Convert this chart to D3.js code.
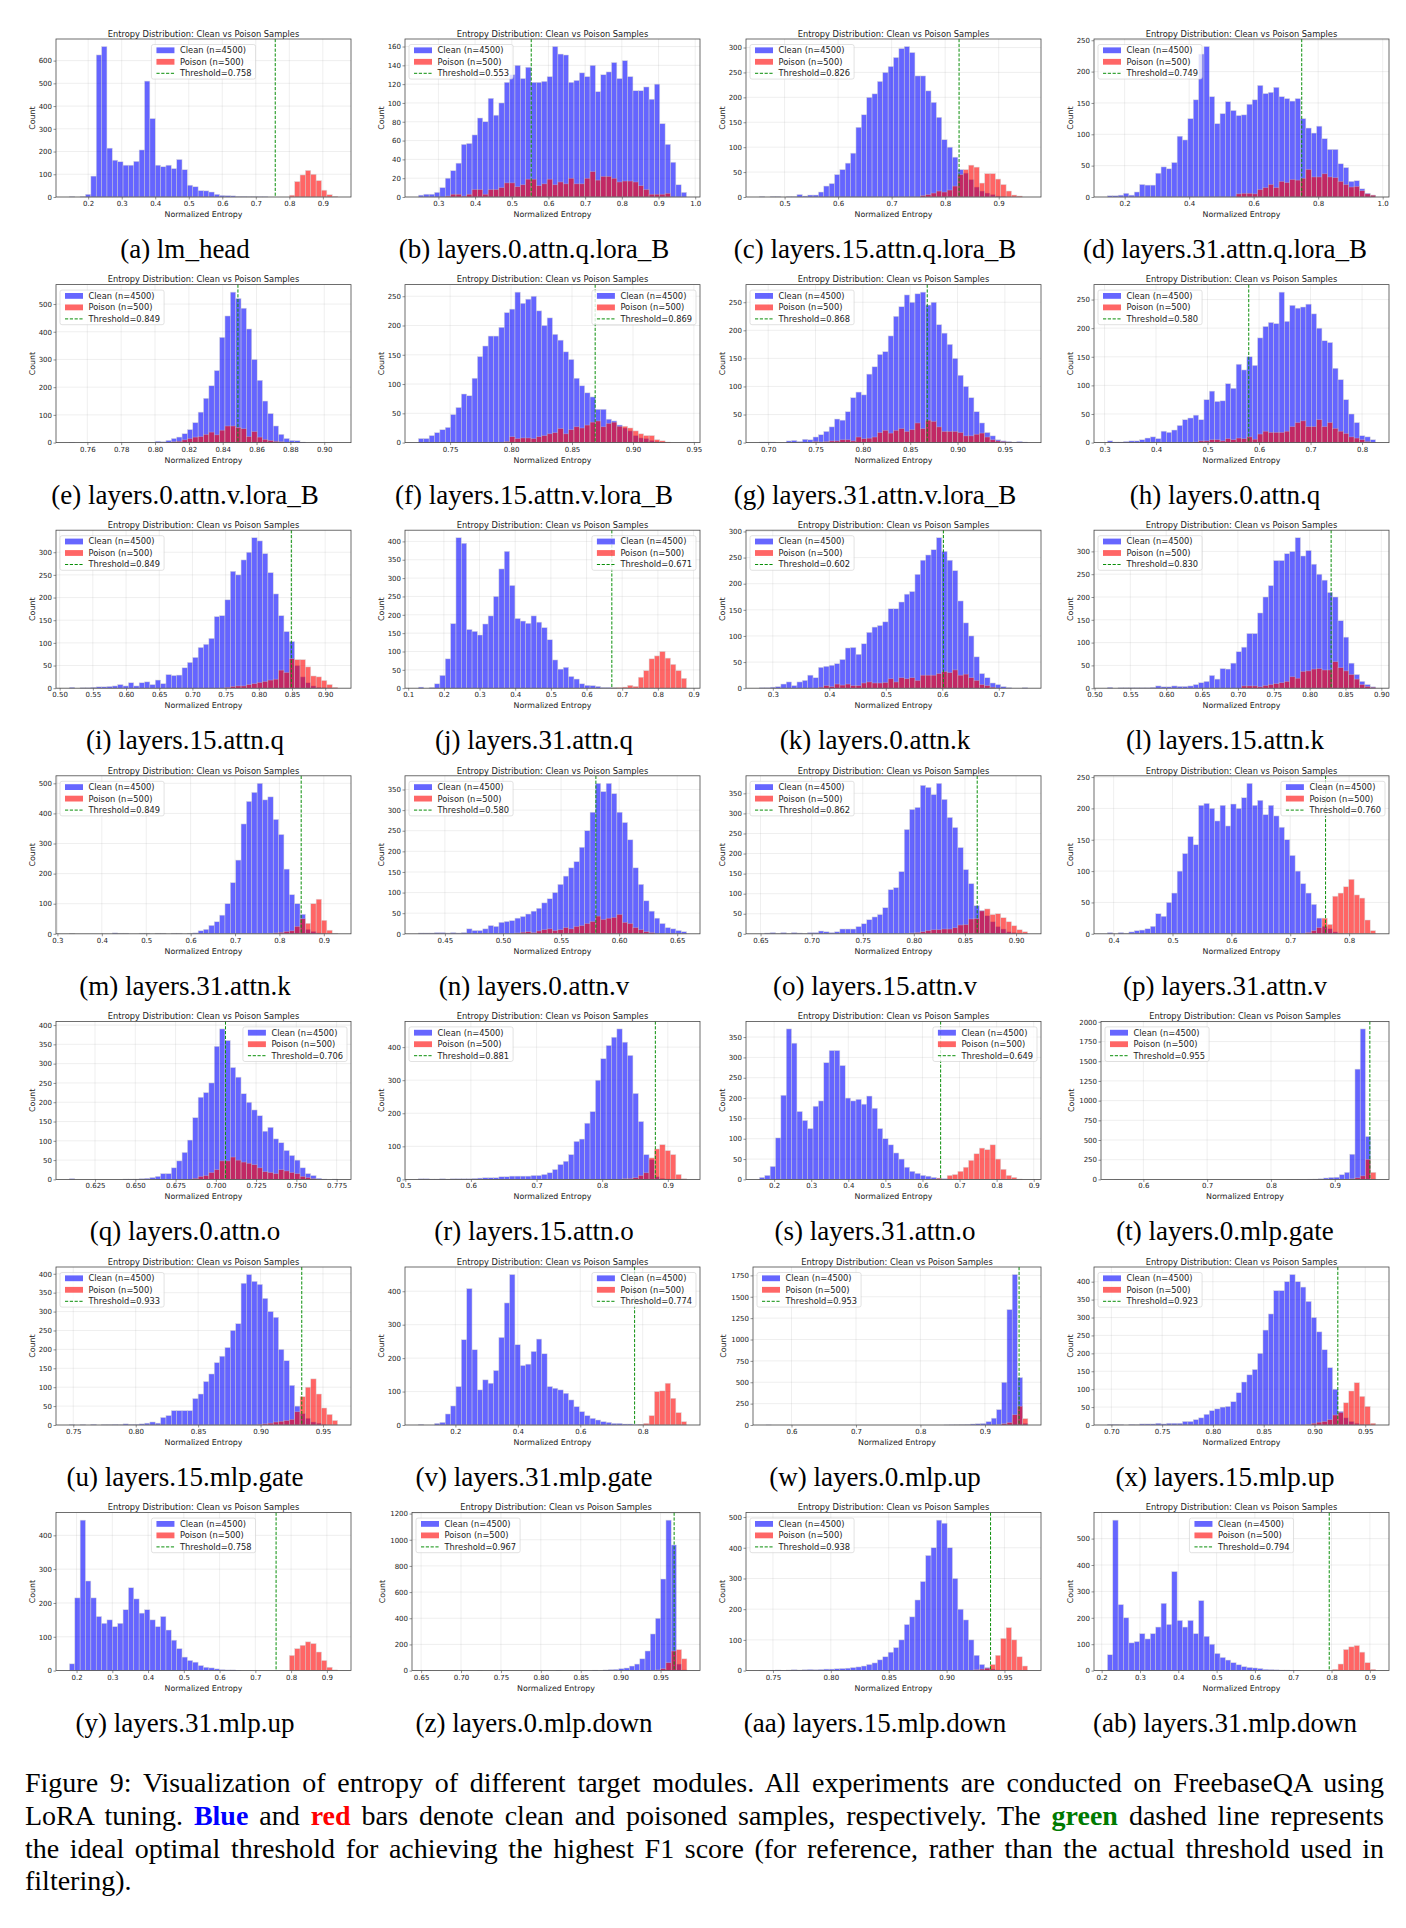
<!DOCTYPE html>
<html>
<head>
<meta charset="utf-8">
<title>Entropy of different target modules</title>
<script src="https://cdn.jsdelivr.net/npm/d3@7"></script>
<style>
  body { margin: 0; background: #fff; }
  svg text { white-space: pre; }
</style>
</head>
<body>
<svg id="fig" width="1406" height="1928"></svg>
<script>
// ---- values ----
const subLabels = ["a","b","c","d","e","f","g","h","i","j","k","l","m","n",
                   "o","p","q","r","s","t","u","v","w","x","y","z","aa","ab"];
const moduleNames = ["lm_head","layers.0.attn.q.lora_B","layers.15.attn.q.lora_B","layers.31.attn.q.lora_B",
  "layers.0.attn.v.lora_B","layers.15.attn.v.lora_B","layers.31.attn.v.lora_B","layers.0.attn.q",
  "layers.15.attn.q","layers.31.attn.q","layers.0.attn.k","layers.15.attn.k",
  "layers.31.attn.k","layers.0.attn.v","layers.15.attn.v","layers.31.attn.v",
  "layers.0.attn.o","layers.15.attn.o","layers.31.attn.o","layers.0.mlp.gate",
  "layers.15.mlp.gate","layers.31.mlp.gate","layers.0.mlp.up","layers.15.mlp.up",
  "layers.31.mlp.up","layers.0.mlp.down","layers.15.mlp.down","layers.31.mlp.down"];
const thresholds = [0.758,0.553,0.826,0.749,0.849,0.869,0.868,0.580,0.849,0.671,0.602,0.830,0.849,0.580,
                    0.862,0.760,0.706,0.881,0.649,0.955,0.933,0.774,0.953,0.923,0.758,0.967,0.938,0.794];
// range covered by the 50 histogram bins of each panel
const binLo = [0.144,0.2455,0.453,0.1466,0.7494,0.724,0.6907,0.3056,0.5147,0.1286,0.2763,0.518,0.327,0.4272,
               0.6489,0.3894,0.6091,0.520,0.1603,0.5541,0.7469,0.0816,0.5606,0.6961,0.18,0.655,0.7383,0.215];
const binHi = [0.944,0.9765,0.954,0.978,0.9079,0.944,0.974,0.8263,0.9187,0.8806,0.751,0.892,0.931,0.6581,
               0.9113,0.845,0.7756,0.9286,0.8835,0.9645,0.9617,0.9405,0.9667,0.9602,0.93,0.983,0.970,0.915];
const xTickStep = [0.1,0.1,0.1,0.2,0.02,0.05,0.05,0.1,0.05,0.1,0.1,0.05,0.1,0.05,
                   0.05,0.1,0.025,0.1,0.1,0.1,0.05,0.2,0.1,0.05,0.1,0.05,0.05,0.1];
const yTickStep = [100,20,50,50,100,50,50,50,50,50,50,50,100,50,
                   50,50,50,100,50,250,50,100,250,50,100,200,100,100];
const cleanN = 4500, poisonN = 500;

const clean_a = [2,0,2,12,92,625,662,215,162,155, 140,140,157,207,510,345,140,133,140,125, 165,120,52,45,28,27,22,12,7,6, 5,3,3,2,2,1,1,0,0,0, 0,0,0,0,0,0,0,0,0,0];
const poison_a = [0,0,0,0,0,0,0,0,0,0, 0,0,0,0,0,0,0,0,0,0, 0,0,0,0,0,0,0,0,0,0, 0,0,0,0,0,0,0,0,0,0, 0,8,68,97,117,100,72,30,10,3];
const clean_b = [2,3,3,5,10,20,28,36,56,57, 66,84,80,105,87,100,122,130,140,126, 138,122,122,123,128,160,152,151,122,124, 132,128,140,112,130,133,143,126,145,128, 113,113,117,104,120,78,56,37,13,5];
const poison_b = [0,0,0,0,0,1,3,3,1,3, 8,8,3,8,8,10,15,15,11,13, 19,19,12,14,19,13,16,14,20,14, 14,20,27,18,22,22,20,16,17,17, 16,12,8,3,3,3,4,0,0,0];
const clean_c = [1,0,1,1,0,1,1,5,2,4, 4,10,22,27,45,55,68,88,140,165, 200,207,232,250,262,280,298,302,290,243, 243,213,190,160,115,100,80,55,48,35, 20,12,8,5,2,1,0,0,0,0];
const poison_c = [0,0,0,0,0,0,0,0,0,0, 0,0,0,0,0,0,0,0,0,0, 0,0,0,0,0,0,0,0,0,0, 3,5,8,12,10,14,22,45,55,64, 60,28,47,47,36,25,12,4,2,0];
const clean_d = [2,2,3,6,3,8,20,19,19,38, 48,45,55,97,91,125,155,228,240,160, 117,133,152,138,130,131,148,155,178,165, 167,175,160,157,153,157,125,110,102,113, 93,76,76,53,47,25,26,13,6,3];
const poison_d = [0,0,0,0,0,0,0,0,0,0, 0,0,0,0,0,0,0,0,0,0, 0,0,0,0,5,6,6,5,12,15, 20,15,25,23,28,27,30,44,32,32, 37,32,31,25,20,16,17,10,5,3];
const clean_e = [1,0,0,0,0,0,0,0,0,0, 0,0,0,0,0,0,5,3,8,15, 20,32,47,72,110,160,205,260,380,457, 543,520,485,410,300,225,150,105,60,30, 15,8,7,2,0,0,0,0,0,1];
const poison_e = [0,0,0,0,0,0,0,0,0,0, 0,0,0,0,0,0,0,0,0,3, 5,10,15,20,22,30,38,28,45,60, 60,55,50,22,40,20,12,8,5,3, 0,0,0,0,0,0,0,0,0,0];
const clean_f = [7,7,12,17,22,26,48,60,83,80, 110,147,165,182,182,197,222,228,257,238, 245,250,225,200,213,185,175,155,142,110, 97,85,78,57,57,40,37,30,25,20, 12,8,7,4,2,1,0,0,0,0];
const poison_f = [0,0,0,0,0,0,0,0,0,0, 0,0,0,0,0,0,2,10,7,8, 8,7,10,12,15,17,24,15,22,27, 25,30,35,37,27,33,35,28,28,25, 20,15,12,12,5,3,1,0,0,0];
const clean_g = [1,1,1,0,0,3,4,2,6,5, 10,14,20,28,42,40,55,80,90,85, 122,135,157,162,190,225,242,263,250,265, 268,245,250,210,195,175,150,120,100,80, 55,35,18,12,5,3,2,1,2,1];
const poison_g = [0,0,0,0,0,0,0,0,0,0, 2,1,2,3,3,5,5,3,10,7, 8,10,18,22,17,22,25,20,23,35, 25,40,38,28,20,20,20,18,12,12, 15,17,10,5,3,2,1,0,0,0];
const clean_h = [3,1,1,2,3,3,5,8,10,7, 20,18,22,30,40,43,48,40,75,90, 72,73,103,95,137,127,150,135,183,203, 210,208,263,212,240,235,237,242,225,200, 178,175,130,110,75,50,35,12,10,5];
const poison_h = [0,0,0,0,0,0,0,0,0,0, 0,0,0,0,0,0,1,3,3,5, 5,3,7,5,8,7,10,6,15,20, 18,18,18,20,28,35,38,28,28,40, 28,35,25,20,16,10,8,5,2,0];
const clean_i = [2,0,1,1,2,3,3,4,5,8, 5,12,5,12,14,8,18,10,30,28, 29,45,57,68,90,97,110,158,160,195, 258,250,283,300,332,325,297,255,208,160, 125,103,50,25,12,5,2,1,0,0];
const poison_i = [0,0,0,0,0,0,0,0,0,0, 0,0,0,0,0,0,0,0,0,0, 0,0,0,0,0,0,0,0,0,2, 4,5,5,8,10,13,15,18,20,40, 35,65,63,63,47,27,25,17,8,2];
const clean_j = [3,0,2,12,35,80,176,410,395,160, 155,145,175,197,250,325,373,280,190,183, 177,197,180,165,132,77,52,57,32,25, 12,8,7,5,2,2,1,0,0,0, 0,0,0,0,0,0,0,0,0,0];
const poison_j = [0,0,0,0,0,0,0,0,0,0, 0,0,0,0,0,0,0,0,0,0, 0,0,0,0,0,0,0,0,0,0, 0,0,0,0,0,0,1,2,3,8, 5,30,48,80,88,100,82,65,48,27];
const clean_k = [1,1,2,3,8,12,5,12,15,25, 20,40,42,44,47,55,77,78,65,85, 107,117,120,127,152,152,165,180,185,218, 245,255,265,288,262,245,225,167,125,100, 60,28,20,10,7,3,1,0,0,1];
const poison_k = [0,0,0,0,0,0,0,0,0,0, 0,2,5,3,8,6,8,5,5,10, 12,10,10,11,18,12,20,18,20,15, 25,25,25,28,32,30,35,25,27,20, 15,7,5,2,0,0,0,0,0,0];
const clean_l = [2,0,1,1,1,1,1,1,2,5, 3,3,5,4,4,5,8,12,15,28, 20,43,42,55,80,90,120,120,165,200, 225,280,280,295,300,330,290,302,272,250, 237,210,200,148,112,55,30,15,8,3];
const poison_l = [0,0,0,0,0,0,0,0,0,0, 0,0,0,0,0,0,0,0,0,0, 0,0,0,0,0,5,5,5,3,6, 8,10,12,15,25,22,37,38,42,43, 40,40,58,45,38,30,20,8,4,2];
const clean_m = [1,0,0,0,0,0,0,0,3,2, 2,0,0,2,2,0,2,2,0,2, 2,0,2,3,10,15,28,40,62,100, 170,245,365,440,470,500,445,455,380,330, 215,130,100,65,15,8,3,1,0,0];
const poison_m = [0,0,0,0,0,0,0,0,0,0, 0,0,0,0,0,0,0,0,0,0, 0,0,0,0,0,0,0,0,0,0, 0,0,0,0,0,0,0,2,3,5, 8,10,25,50,35,100,115,45,12,2];
const clean_n = [2,2,2,3,3,2,3,2,3,12, 8,8,12,20,18,28,30,32,38,42, 48,55,62,75,85,100,120,140,160,175, 210,250,295,365,345,365,340,295,270,228, 160,120,80,55,38,25,15,12,8,5];
const poison_n = [0,0,0,0,0,0,0,0,0,0, 0,0,0,0,0,0,0,0,2,4, 5,3,7,10,12,8,10,15,12,18, 20,25,30,43,35,38,40,47,28,25, 15,10,5,3,0,0,0,0,0,0];
const clean_o = [0,2,3,1,3,1,3,2,1,3, 3,7,5,3,5,12,12,12,18,25, 35,42,48,65,110,115,155,260,310,315, 370,365,347,375,335,290,265,215,160,125, 70,58,45,30,18,12,5,3,1,0];
const poison_o = [0,0,0,0,0,0,0,0,0,0, 0,0,0,0,0,0,0,0,0,0, 0,0,0,0,0,0,0,1,2,3, 5,8,10,10,12,12,15,22,23,37, 38,57,62,48,50,40,30,20,10,5];
const clean_p = [2,0,2,1,3,5,6,8,12,32, 28,50,65,100,128,155,142,205,208,200, 180,205,172,207,200,217,240,205,213,190, 205,188,170,150,125,100,80,65,47,25, 12,8,3,1,0,0,0,0,0,0];
const poison_p = [0,0,0,0,0,0,0,0,0,0, 0,0,0,0,0,0,0,0,0,0, 0,0,0,0,0,0,0,0,0,0, 0,0,0,0,0,0,0,2,5,10, 25,15,60,65,75,87,62,57,22,5];
const clean_q = [2,0,0,0,0,0,0,0,0,0, 1,1,1,2,3,5,8,15,15,30, 48,70,102,160,213,225,250,345,390,360, 290,265,222,200,180,165,125,135,105,95, 75,62,50,30,15,10,3,1,0,1];
const poison_q = [0,0,0,0,0,0,0,0,0,0, 0,0,0,0,0,0,0,0,0,0, 0,0,0,3,8,10,18,25,48,48, 58,50,45,42,38,30,20,18,15,25, 22,18,15,8,5,2,0,0,0,0];
const clean_r = [2,2,1,1,2,1,2,2,2,2, 3,4,5,5,5,8,8,10,10,10, 10,12,12,15,20,30,45,55,75,115, 122,170,205,300,365,405,430,455,415,375, 260,175,75,60,8,3,1,0,0,0];
const poison_r = [0,0,0,0,0,0,0,0,0,0, 0,0,0,0,0,0,0,0,0,0, 0,0,0,0,0,0,0,0,0,0, 0,0,0,0,0,0,0,0,2,3, 5,12,20,65,92,105,87,75,15,2];
const clean_s = [5,10,32,102,207,370,335,167,145,125, 180,193,287,317,317,280,200,193,197,185, 205,175,125,100,85,65,50,30,20,15, 10,8,5,3,2,1,0,0,0,0, 0,0,0,0,0,0,0,0,0,0];
const poison_s = [0,0,0,0,0,0,0,0,0,0, 0,0,0,0,0,0,0,0,0,0, 0,0,0,0,0,0,0,0,0,0, 0,0,0,3,0,10,12,20,30,47, 63,77,73,85,50,25,10,5,1,0];
const clean_t = [1,0,0,0,0,0,0,0,0,0, 0,0,0,0,0,0,0,0,0,0, 0,0,0,0,0,0,0,0,0,0, 0,0,0,1,1,2,2,3,5,8, 18,25,28,60,90,320,1400,1910,545,5];
const poison_t = [0,0,0,0,0,0,0,0,0,0, 0,0,0,0,0,0,0,0,0,0, 0,0,0,0,0,0,0,0,0,0, 0,0,0,0,0,0,0,0,0,0, 0,0,0,0,3,8,20,45,255,90];
const clean_u = [1,0,1,0,2,0,1,1,2,1, 3,2,2,3,5,8,5,20,25,38, 38,38,38,70,82,115,135,165,182,205, 250,268,375,398,380,372,335,300,285,200, 170,105,50,30,18,8,5,2,0,0];
const poison_u = [0,0,0,0,0,0,0,0,0,0, 0,0,0,0,0,0,0,0,0,0, 0,0,0,0,0,0,0,0,0,0, 0,0,0,0,0,2,3,5,8,10, 12,15,35,75,100,122,82,45,28,12];
const clean_v = [2,0,0,5,8,33,57,115,255,408, 225,105,135,125,163,262,365,450,240,178, 182,220,257,213,115,110,105,95,75,55, 40,28,20,15,10,8,5,5,3,3, 2,1,0,0,0,0,0,0,0,0];
const poison_v = [0,0,0,0,0,0,0,0,0,0, 0,0,0,0,0,0,0,0,0,0, 0,0,0,0,0,0,0,0,0,0, 0,0,0,0,0,0,0,0,0,0, 0,2,5,28,100,102,125,80,37,10];
const clean_w = [1,0,0,0,0,0,0,0,0,0, 0,0,0,0,0,0,0,0,0,0, 0,0,0,0,0,0,0,0,0,0, 0,0,0,0,1,2,3,5,8,12, 15,18,40,80,180,500,1350,1760,555,20];
const poison_w = [0,0,0,0,0,0,0,0,0,0, 0,0,0,0,0,0,0,0,0,0, 0,0,0,0,0,0,0,0,0,0, 0,0,0,0,0,0,0,0,0,0, 0,0,0,0,5,15,30,120,220,75];
const clean_x = [2,2,1,0,2,1,3,3,3,5, 3,5,5,5,10,10,15,20,30,40, 45,50,52,65,90,120,140,155,200,265, 310,375,375,400,420,400,385,345,300,260, 210,160,100,38,20,10,5,2,1,0];
const poison_x = [0,0,0,0,0,0,0,0,0,0, 0,0,0,0,0,0,0,0,0,0, 0,0,0,0,0,0,0,0,0,0, 0,0,0,0,0,0,0,2,5,8, 10,15,28,35,62,95,118,80,52,5];
const clean_y = [20,215,445,265,215,160,140,150,130,140, 180,245,212,170,180,150,130,160,120,90, 65,40,30,25,15,10,8,5,3,2, 2,1,0,0,0,0,0,0,0,0, 0,0,0,0,0,0,0,0,0,0];
const poison_y = [0,0,0,0,0,0,0,0,0,0, 0,0,0,0,0,0,0,0,0,0, 0,0,0,0,0,0,0,0,0,0, 0,0,0,0,0,0,0,0,0,0, 0,45,65,75,85,80,55,30,10,2];
const clean_z = [2,0,0,0,0,1,0,0,0,0, 1,0,0,0,0,1,0,0,0,0, 1,0,0,0,0,2,0,0,0,0, 2,0,3,0,5,8,10,15,20,35, 50,90,150,280,400,700,1150,960,50,5];
const poison_z = [0,0,0,0,0,0,0,0,0,0, 0,0,0,0,0,0,0,0,0,0, 0,0,0,0,0,0,0,0,0,0, 0,0,0,0,0,0,0,0,0,0, 0,0,0,0,5,15,60,150,160,90];
const clean_aa = [1,0,1,2,1,2,3,2,3,4, 3,4,5,5,6,7,8,10,12,15, 20,25,35,45,60,75,100,150,175,230, 290,375,400,490,480,400,300,200,165,100, 50,20,10,5,2,1,0,0,0,0];
const poison_aa = [0,0,0,0,0,0,0,0,0,0, 0,0,0,0,0,0,0,0,0,0, 0,0,0,0,0,0,0,0,0,0, 0,0,0,0,0,0,0,0,0,0, 3,5,8,20,50,105,140,100,45,15];
const clean_ab = [60,570,250,200,105,110,140,120,140,165, 255,175,375,190,165,190,140,265,130,100, 65,50,40,30,22,15,12,10,8,5, 4,3,2,2,1,1,0,0,0,0, 0,0,0,0,0,0,0,0,0,0];
const poison_ab = [0,0,0,0,0,0,0,0,0,0, 0,0,0,0,0,0,0,0,0,0, 0,0,0,0,0,0,0,0,0,0, 0,0,0,0,0,0,0,0,0,0, 0,0,5,25,80,90,95,70,30,5];

const cleanSeries = [clean_a,clean_b,clean_c,clean_d,clean_e,clean_f,clean_g,clean_h,clean_i,clean_j,clean_k,clean_l,clean_m,clean_n,
  clean_o,clean_p,clean_q,clean_r,clean_s,clean_t,clean_u,clean_v,clean_w,clean_x,clean_y,clean_z,clean_aa,clean_ab];
const poisonSeries = [poison_a,poison_b,poison_c,poison_d,poison_e,poison_f,poison_g,poison_h,poison_i,poison_j,poison_k,poison_l,poison_m,poison_n,
  poison_o,poison_p,poison_q,poison_r,poison_s,poison_t,poison_u,poison_v,poison_w,poison_x,poison_y,poison_z,poison_aa,poison_ab];

// ---- layout ----
const legendSpot = ["center","left","left","left","left","right","left","left","left","right","left","left","left","left",
                    "left","right","right","left","right","left","left","right","left","left","center","left","left","center"];
const W = 1406, H = 1928;
const colRight = [351, 700, 1041, 1389];
const capCenter = [185, 534, 875, 1225];
const axTop0 = 39, axH = 158, rowPitch = 245.6;
const sans = "DejaVu Sans", serif = "Liberation Serif";
const green = "#0a8f0a";

const svg = d3.select("#fig");
svg.append("rect").attr("width", W).attr("height", H).attr("fill", "#fff");

function drawPanel(k) {
  const row = Math.floor(k / 4), col = k % 4;
  const clean = cleanSeries[k], poison = poisonSeries[k];
  const lo = binLo[k], hi = binHi[k], span = hi - lo, nb = clean.length;
  const ymax = d3.max(clean.concat(poison)) * 1.05;
  const yTicks = d3.range(0, ymax + 1e-9, yTickStep[k]);
  const digits = String(yTicks[yTicks.length - 1]).length;
  const right = colRight[col], left = right - (digits > 3 ? 288 : 295);
  const top = axTop0 + row * rowPitch, bottom = top + axH;

  const x = d3.scaleLinear().domain([lo - 0.05 * span, hi + 0.05 * span]).range([left, right]);
  const y = d3.scaleLinear().domain([0, ymax]).range([bottom, top]);
  const xs = xTickStep[k];
  const dec = (String(xs).split(".")[1] || "").length;
  const [d0, d1] = x.domain();
  const xTicks = d3.range(Math.ceil(d0 / xs - 1e-6), Math.floor(d1 / xs + 1e-6) + 1).map(j => +(j * xs).toFixed(dec));

  const g = svg.append("g");

  // grid
  g.append("g").selectAll("line").data(xTicks).join("line")
    .attr("x1", d => x(d)).attr("x2", d => x(d)).attr("y1", top).attr("y2", bottom)
    .attr("stroke", "#b0b0b0").attr("stroke-opacity", 0.35).attr("stroke-width", 0.6);
  g.append("g").selectAll("line").data(yTicks).join("line")
    .attr("x1", left).attr("x2", right).attr("y1", d => y(d)).attr("y2", d => y(d))
    .attr("stroke", "#b0b0b0").attr("stroke-opacity", 0.35).attr("stroke-width", 0.6);

  // bars, shared bin edges
  const edge = i => lo + i * span / nb;
  const drawBars = (counts, color) => g.append("g").selectAll("rect")
    .data(counts.map((c, i) => ({ c, i })).filter(d => d.c > 0)).join("rect")
    .attr("x", d => x(edge(d.i))).attr("width", d => x(edge(d.i + 1)) - x(edge(d.i)))
    .attr("y", d => y(d.c)).attr("height", d => y(0) - y(d.c))
    .attr("fill", color).attr("stroke", "#c8c8c8").attr("stroke-width", 0.5).attr("opacity", 0.6);
  drawBars(clean, "blue");
  drawBars(poison, "red");

  // threshold
  g.append("line").attr("x1", x(thresholds[k])).attr("x2", x(thresholds[k]))
    .attr("y1", top).attr("y2", bottom)
    .attr("stroke", green).attr("stroke-width", 1).attr("stroke-dasharray", "3.2,1.6");

  // spines
  g.append("rect").attr("x", left).attr("y", top).attr("width", right - left).attr("height", axH)
    .attr("fill", "none").attr("stroke", "#4a4a4a").attr("stroke-width", 0.8);

  // axes
  const xa = g.append("g").attr("transform", `translate(0,${bottom})`)
    .call(d3.axisBottom(x).tickValues(xTicks).tickFormat(d3.format(`.${dec}f`)).tickSize(2.5).tickPadding(1.5));
  const ya = g.append("g").attr("transform", `translate(${left},0)`)
    .call(d3.axisLeft(y).tickValues(yTicks).tickFormat(d3.format("d")).tickSize(2.5).tickPadding(1.5));
  [xa, ya].forEach(a => {
    a.select(".domain").remove();
    a.selectAll(".tick line").attr("stroke", "#4a4a4a").attr("stroke-width", 0.6);
    a.selectAll(".tick text").attr("font-family", sans).attr("font-size", 7).attr("fill", "#222");
  });

  // title and axis labels
  g.append("text").attr("x", (left + right) / 2).attr("y", top - 2.2).attr("text-anchor", "middle")
    .attr("font-family", sans).attr("font-size", 8.3).attr("fill", "#222")
    .text("Entropy Distribution: Clean vs Poison Samples");
  g.append("text").attr("x", (left + right) / 2).attr("y", bottom + 20).attr("text-anchor", "middle")
    .attr("font-family", sans).attr("font-size", 7.9).attr("fill", "#222").text("Normalized Entropy");
  const cx = left - 24 - (digits - 3) * 6;
  g.append("text").attr("transform", `translate(${cx},${(top + bottom) / 2}) rotate(-90)`)
    .attr("text-anchor", "middle").attr("dy", "0.35em")
    .attr("font-family", sans).attr("font-size", 7.9).attr("fill", "#222").text("Count");

  // legend
  const entries = [
    { kind: "patch", color: "blue", label: `Clean (n=${cleanN})` },
    { kind: "patch", color: "red", label: `Poison (n=${poisonN})` },
    { kind: "dash", color: green, label: `Threshold=${d3.format(".3f")(thresholds[k])}` }
  ];
  const lg = g.append("g");
  const frame = lg.append("rect");
  const rowsG = lg.selectAll("g.entry").data(entries).join("g").attr("class", "entry")
    .attr("transform", (d, i) => `translate(0,${5.8 + i * 11.5})`);
  rowsG.filter(d => d.kind === "patch").append("rect")
    .attr("x", 5).attr("y", -2.9).attr("width", 18).attr("height", 5.8)
    .attr("fill", d => d.color).attr("opacity", 0.6);
  rowsG.filter(d => d.kind === "dash").append("line")
    .attr("x1", 5).attr("x2", 23).attr("y1", 0).attr("y2", 0)
    .attr("stroke", d => d.color).attr("stroke-width", 1).attr("stroke-dasharray", "3.2,1.6");
  const texts = rowsG.append("text").attr("x", 28.5).attr("y", 2.9)
    .attr("font-family", sans).attr("font-size", 8.3).attr("fill", "#222").text(d => d.label);
  const tw = d3.max(texts.nodes(), n => n.getComputedTextLength());
  const bw = 28.5 + tw + 4, bh = 34.6;
  frame.attr("width", bw).attr("height", bh).attr("rx", 2)
    .attr("fill", "#fff").attr("fill-opacity", 0.8).attr("stroke", "#cfcfcf").attr("stroke-width", 0.6);
  const spot = legendSpot[k];
  const bx = spot === "left" ? left + 4 : spot === "right" ? right - 4 - bw : (left + right) / 2 - bw / 2;
  lg.attr("transform", `translate(${bx},${top + 5.5})`);

  // sub-caption
  svg.append("text").attr("x", capCenter[col]).attr("y", bottom + 61).attr("text-anchor", "middle")
    .attr("font-family", serif).attr("font-size", 27).attr("fill", "#000")
    .text(`(${subLabels[k]}) ${moduleNames[k]}`);
}

subLabels.forEach((s, k) => drawPanel(k));

// ---- figure caption (justified lines) ----
const captionLines = [
  [{ t: "Figure 9: Visualization of entropy of different target modules. All experiments are conducted on FreebaseQA using" }],
  [{ t: "LoRA tuning. " }, { t: "Blue", c: "#0000ff" }, { t: " and " }, { t: "red", c: "#ff0000" },
   { t: " bars denote clean and poisoned samples, respectively. The " }, { t: "green", c: "#007a00" },
   { t: " dashed line represents" }],
  [{ t: "the ideal optimal threshold for achieving the highest F1 score (for reference, rather than the actual threshold used in" }],
  [{ t: "filtering)." }]
];
const capLeft = 25, capWidth = 1359, capBase = 1792, capStep = 32.8;
captionLines.forEach((parts, li) => {
  const t = svg.append("text").attr("x", capLeft).attr("y", capBase + li * capStep)
    .attr("font-family", serif).attr("font-size", 28).attr("fill", "#000");
  parts.forEach(p => {
    const ts = t.append("tspan").text(p.t);
    if (p.c) ts.attr("fill", p.c).attr("font-weight", "bold");
  });
  if (li < captionLines.length - 1) {
    const natural = t.node().getComputedTextLength();
    const spaces = parts.map(p => p.t).join("").split(" ").length - 1;
    t.attr("word-spacing", Math.max(0, (capWidth - natural) / spaces));
  }
});
</script>
</body>
</html>
